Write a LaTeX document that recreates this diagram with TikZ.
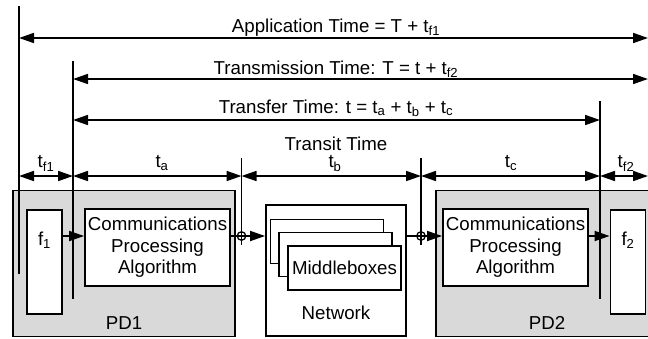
\documentclass[tikz,border=0pt]{standalone}
\usepackage{fontspec}
\setmainfont{Liberation Sans}
\usetikzlibrary{calc,arrows.meta}

\tikzset{
  pdbox/.style = {draw = black, fill = black!15, line width = 1.8pt, inner sep = 0pt},
  box/.style = {draw = black, fill = white, line width = 1.8pt, inner sep = 0pt},
  cpabox/.style = {box, minimum width = 145pt, minimum height = 77pt, align = center},
  fbox/.style = {box, minimum width = 35pt, minimum height = 104pt},
  mbbox/.style = {box, minimum width = 113pt, minimum height = 44pt},
  junction/.style = {circle, draw = black, line width = 1.3pt, minimum size = 8.5pt, inner sep = 0pt},
  rule/.style = {line width = 1.9pt},
  dimline/.style = {line width = 1.7pt, {Triangle[length=15pt,width=10pt]}-{Triangle[length=15pt,width=10pt]}},
  flow/.style = {line width = 1.7pt, -{Triangle[length=15pt,width=10pt]}},
  lbl/.style = {anchor = base, inner sep = 0pt}
}

\begin{document}
\begin{tikzpicture}[x = 1pt, y = -1pt, font = \fontsize{18.7}{21.5}\selectfont]
  \useasboundingbox (0,0) rectangle (648,338);

  % devices and network
  \node [pdbox, minimum width = 222pt, minimum height = 146pt] (pd1) at (124,263.5) {};
  \node [pdbox, minimum width = 216pt, minimum height = 146pt] (pd2) at (544,263.5) {};
  \node [box, minimum width = 140pt, minimum height = 131pt] (net) at (336,270.5) {};

  \node [fbox] (f1) at (44.5,262) {};
  \node [fbox] (f2) at (628,262) {};
  \node [cpabox] (cpa1) at (157.5,247.5) {Communications\\Processing\\Algorithm};
  \node [cpabox] (cpa2) at (515.5,247.5) {Communications\\Processing\\Algorithm};

  \node [mbbox] (mb1) at (327,241.5) {};
  \node [mbbox] (mb2) at (335.5,254.5) {};
  \node [mbbox] (mb3) at (344.5,268) {Middleboxes};

  \node (pd1lbl) at (124,323) {PD1};
  \node (pd2lbl) at (547,323) {PD2};
  \node (netlbl) at (336,313) {Network};
  \node (f1lbl) at (44.5,240) {f\textsubscript{1}};
  \node (f2lbl) at (628,240) {f\textsubscript{2}};

  % levels of the time arrows
  \coordinate (app) at (0,38);
  \coordinate (trm) at (0,79);
  \coordinate (trf) at (0,120);
  \coordinate (seg) at (0,176);
  \coordinate (rend) at (648,0);

  % boundary lines
  \coordinate (l1t) at (19,6);    \coordinate (l1b) at (19,274);
  \coordinate (l2t) at (73,61);   \coordinate (l2b) at (73,299);
  \coordinate (l3t) at (241.5,158); \coordinate (l3b) at (241.5,245);
  \coordinate (l4t) at (421,158); \coordinate (l4b) at (421,245);
  \coordinate (l5t) at (600,101); \coordinate (l5b) at (600,299);

  \draw [rule] (l1t) -- (l1b);
  \draw [rule] (l2t) -- (l2b);
  \draw [rule] (l3t) -- (l3b);
  \draw [rule] (l4t) -- (l4b);
  \draw [rule] (l5t) -- (l5b);

  \node [junction] (j1) at (241.5,236) {};
  \node [junction] (j2) at (421,236) {};

  % data flow
  \draw [flow] (f1.east |- j1) -- (cpa1.west |- j1);
  \draw [flow] (cpa1.east |- j1) -- (net.west |- j1);
  \draw [flow] (net.east |- j2) -- (cpa2.west |- j2);
  \draw [flow] (cpa2.east |- j2) -- (f2.west |- j2);

  % time arrows
  \draw [dimline] (l1t |- app) -- (rend |- app);
  \draw [dimline] (l2t |- trm) -- (rend |- trm);
  \draw [dimline] (l2t |- trf) -- (l5t |- trf);
  \draw [dimline] (l1t |- seg) -- (l2t |- seg);
  \draw [dimline] (l2t |- seg) -- (l3t |- seg);
  \draw [dimline] (l3t |- seg) -- (l4t |- seg);
  \draw [dimline] (l4t |- seg) -- (l5t |- seg);
  \draw [dimline] (l5t |- seg) -- (rend |- seg);

  \node [lbl] (applbl) at (336,32) {Application Time = T + t\textsubscript{f1}};
  \node [lbl] (trmlbl) at (336,74) {Transmission Time: T = t + t\textsubscript{f2}};
  \node [lbl] (trflbl) at (336,113) {Transfer Time: t = t\textsubscript{a} + t\textsubscript{b} + t\textsubscript{c}};
  \node [lbl] (trslbl) at (336,150) {Transit Time};
  \node [lbl] (tf1lbl) at (46,167.5) {t\textsubscript{f1}};
  \node [lbl] (talbl) at (162,167.5) {t\textsubscript{a}};
  \node [lbl] (tblbl) at (335,167.5) {t\textsubscript{b}};
  \node [lbl] (tclbl) at (511,167.5) {t\textsubscript{c}};
  \node [lbl] (tf2lbl) at (626,167.5) {t\textsubscript{f2}};
\end{tikzpicture}
\end{document}
